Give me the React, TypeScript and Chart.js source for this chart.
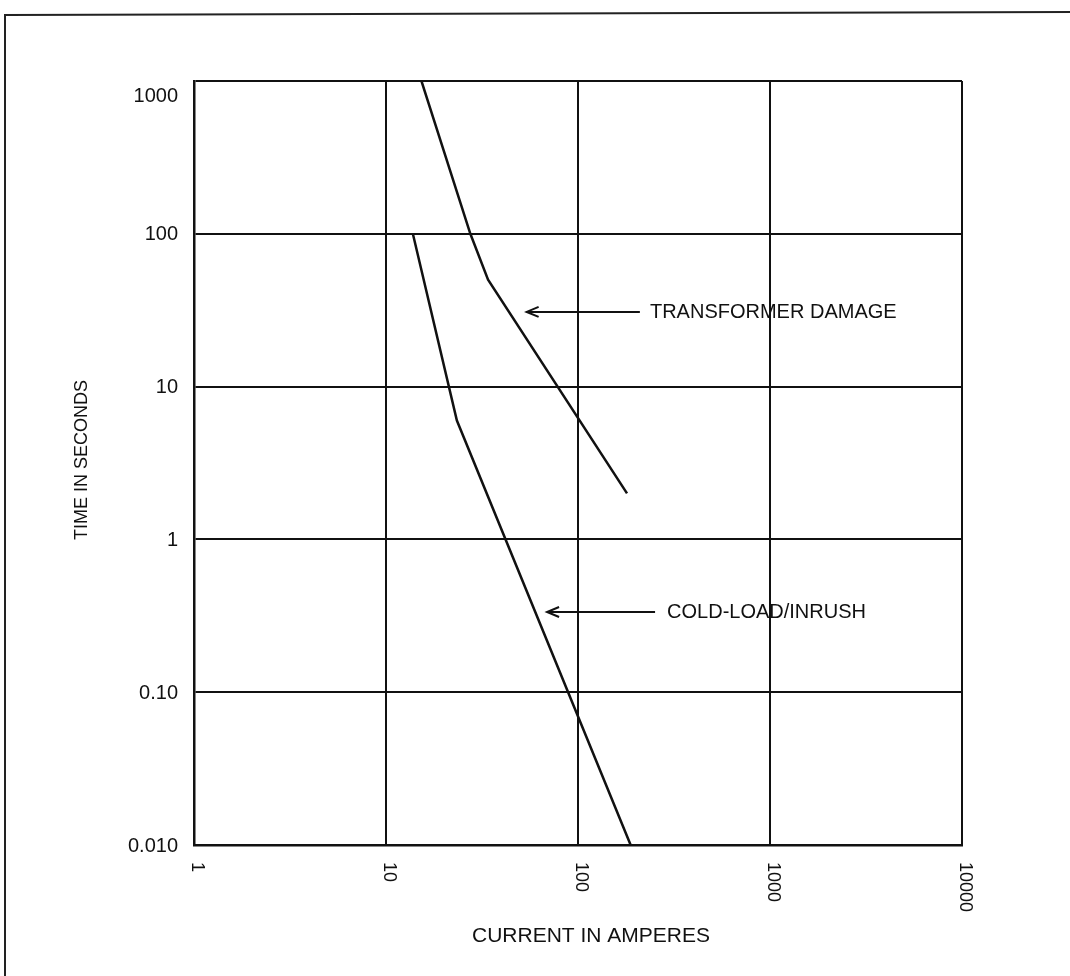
import React, { useEffect, useRef } from "react";
import { Chart, registerables } from "chart.js";

Chart.register(...registerables);

// Axis ticks
const xTickValues = [1, 10, 100, 1000, 10000];
const xTickLabels = ["1", "10", "100", "1000", "10000"];
const yTickValues = [1000, 100, 10, 1, 0.1, 0.01];
const yTickLabels = ["1000", "100", "10", "1", "0.10", "0.010"];

// Series: transformer damage curve
const transformerCurrent = [15.3, 27.5, 34, 180];
const transformerTime = [1000, 100, 50, 2];

// Series: cold-load / inrush curve
const coldLoadCurrent = [13.8, 23.4, 188];
const coldLoadTime = [100, 6, 0.01];

// Annotations (arrow + label), in data units
const annotationLabels = ["TRANSFORMER DAMAGE", "COLD-LOAD/INRUSH"];
const annotationTime = [30.8, 0.335];
const arrowTipCurrent = [54, 69];
const arrowTailCurrent = [210, 252];
const annotationTextCurrent = [237, 291];

const xTitle = "CURRENT IN AMPERES";
const yTitle = "TIME IN SECONDS";

const FONT = '"Liberation Sans", Arial, Helvetica, sans-serif';

const toPoints = (xs: number[], ys: number[]) => xs.map((x, i) => ({ x, y: ys[i] }));

const overlayPlugin = {
  id: "overlay",
  beforeDraw(chart: any) {
    const ctx = chart.ctx;
    ctx.save();
    ctx.fillStyle = "#ffffff";
    ctx.fillRect(0, 0, chart.width, chart.height);
    ctx.restore();
  },
  afterDraw(chart: any) {
    const ctx = chart.ctx;
    const xs = chart.scales.x;
    const ys = chart.scales.y;
    const area = chart.chartArea;
    ctx.save();
    ctx.fillStyle = "#111";
    ctx.strokeStyle = "#111";

    // Y tick labels
    ctx.font = `20px ${FONT}`;
    ctx.textAlign = "right";
    ctx.textBaseline = "middle";
    yTickValues.forEach((v, i) => {
      let py = ys.getPixelForValue(v);
      py = Math.max(py, area.top + 14);
      ctx.fillText(yTickLabels[i], area.left - 16, py + 1);
    });

    // X tick labels, rotated clockwise
    ctx.font = `18px ${FONT}`;
    xTickValues.forEach((v, i) => {
      const px = xs.getPixelForValue(v);
      ctx.save();
      ctx.translate(px + 3, area.bottom + 17);
      ctx.rotate(Math.PI / 2);
      ctx.textAlign = "left";
      ctx.textBaseline = "middle";
      ctx.fillText(xTickLabels[i], 0, 0);
      ctx.restore();
    });

    // Axis titles
    ctx.font = `21px ${FONT}`;
    ctx.textAlign = "center";
    ctx.textBaseline = "middle";
    ctx.fillText(xTitle, 591, 936);
    ctx.save();
    ctx.font = `18px ${FONT}`;
    ctx.translate(82, 460);
    ctx.rotate(-Math.PI / 2);
    ctx.fillText(yTitle, 0, 0);
    ctx.restore();

    // Annotations with arrows
    ctx.lineWidth = 2;
    annotationLabels.forEach((label, i) => {
      const y = ys.getPixelForValue(annotationTime[i]);
      const tip = xs.getPixelForValue(arrowTipCurrent[i]);
      const tail = xs.getPixelForValue(arrowTailCurrent[i]);
      const tx = xs.getPixelForValue(annotationTextCurrent[i]);
      ctx.beginPath();
      ctx.moveTo(tail, y);
      ctx.lineTo(tip, y);
      ctx.moveTo(tip + 12, y - 5);
      ctx.lineTo(tip, y);
      ctx.lineTo(tip + 12, y + 5);
      ctx.stroke();
      ctx.font = `20px ${FONT}`;
      ctx.textAlign = "left";
      ctx.textBaseline = "middle";
      ctx.fillText(label, tx, y + 1);
    });

    // Page frame (scan border)
    ctx.lineWidth = 2;
    ctx.strokeStyle = "#222";
    ctx.beginPath();
    ctx.moveTo(5, 976);
    ctx.lineTo(5, 15);
    ctx.lineTo(1070, 12);
    ctx.stroke();
    ctx.restore();
  },
};

export default function App() {
  const ref = useRef<HTMLCanvasElement | null>(null);

  useEffect(() => {
    if (!ref.current) return;
    const gridOpts = {
      color: "#111",
      lineWidth: 2,
      drawTicks: false,
    };
    const chart = new Chart(ref.current, {
      type: "scatter",
      data: {
        datasets: [
          {
            label: "Transformer damage",
            data: toPoints(transformerCurrent, transformerTime),
            showLine: true,
            borderColor: "#111",
            borderWidth: 2.5,
            pointRadius: 0,
            tension: 0,
          },
          {
            label: "Cold-load/inrush",
            data: toPoints(coldLoadCurrent, coldLoadTime),
            showLine: true,
            borderColor: "#111",
            borderWidth: 2.5,
            pointRadius: 0,
            tension: 0,
          },
        ],
      },
      options: {
        responsive: false,
        animation: false,
        devicePixelRatio: 1,
        layout: { padding: { left: 194, right: 108, top: 81, bottom: 131 } },
        plugins: {
          legend: { display: false },
          tooltip: { enabled: false },
        },
        scales: {
          x: {
            type: "logarithmic",
            min: 1,
            max: 10000,
            afterBuildTicks: (scale: any) => {
              scale.ticks = xTickValues.map((v) => ({ value: v }));
            },
            ticks: { display: false },
            grid: gridOpts,
            border: { display: true, color: "#111", width: 2.5 },
          },
          y: {
            type: "logarithmic",
            min: 0.01,
            max: 1000,
            afterBuildTicks: (scale: any) => {
              scale.ticks = yTickValues.map((v) => ({ value: v }));
            },
            ticks: { display: false },
            grid: gridOpts,
            border: { display: true, color: "#111", width: 2.5 },
          },
        },
      },
      plugins: [overlayPlugin],
    } as any);
    return () => chart.destroy();
  }, []);

  return (
    <div style={{ position: "fixed", left: 0, top: 0, width: 1070, height: 976, background: "#fff" }}>
      <canvas ref={ref} width={1070} height={976} style={{ display: "block", width: 1070, height: 976 }} />
    </div>
  );
}
